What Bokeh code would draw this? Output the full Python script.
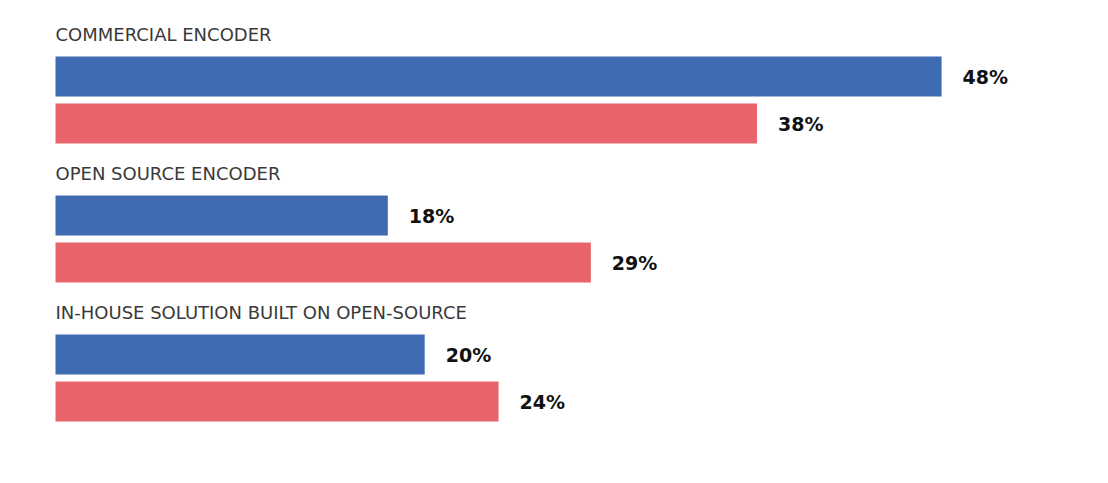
from bokeh.plotting import figure
from bokeh.models import Range1d, ColumnDataSource
from bokeh.embed import file_html
from bokeh.resources import INLINE
from bokeh.core.properties import value

categories = ["COMMERCIAL ENCODER", "OPEN SOURCE ENCODER", "IN-HOUSE SOLUTION BUILT ON OPEN-SOURCE"]
series_blue = [48, 18, 20]
series_red = [38, 29, 24]

BLUE = "#3F6BB3"
RED = "#E8646A"

W, H = 1092, 467
px_per_pct = 18.46
x0_px = 55
xs = -x0_px / px_per_pct
p = figure(width=W, height=H, output_backend="svg", toolbar_location=None,
           x_range=Range1d(xs, xs + W / px_per_pct), y_range=Range1d(H, 0),
           min_border=0, min_border_left=0, min_border_right=0,
           min_border_top=0, min_border_bottom=0)
p.axis.visible = False
p.grid.visible = False
p.outline_line_color = None
p.background_fill_color = "white"
p.border_fill_color = "white"

group_step = 139
blue_y = [76 + i * group_step for i in range(len(categories))]
red_y = [123 + i * group_step for i in range(len(categories))]
label_y = [34 + i * group_step for i in range(len(categories))]

src_b = ColumnDataSource(dict(y=blue_y, v=series_blue, t=[f"{v}%" for v in series_blue]))
src_r = ColumnDataSource(dict(y=red_y, v=series_red, t=[f"{v}%" for v in series_red]))
src_l = ColumnDataSource(dict(y=label_y, x=[0] * len(categories), t=categories))

p.hbar(y="y", left=0, right="v", height=40, source=src_b, fill_color=BLUE, line_color=None)
p.hbar(y="y", left=0, right="v", height=40, source=src_r, fill_color=RED, line_color=None)

for src in (src_b, src_r):
    p.text(x="v", y="y", text="t", source=src, x_offset=21,
           text_font=value("DejaVu Sans"), text_font_style="bold",
           text_font_size="19px", text_color="#111111",
           text_baseline="middle", text_align="left")

p.text(x="x", y="y", text="t", source=src_l,
       text_font=value("DejaVu Sans"), text_font_size="18px",
       text_color="#3a3a3a", text_baseline="middle", text_align="left")

open("out.html", "w").write(file_html(p, INLINE))
